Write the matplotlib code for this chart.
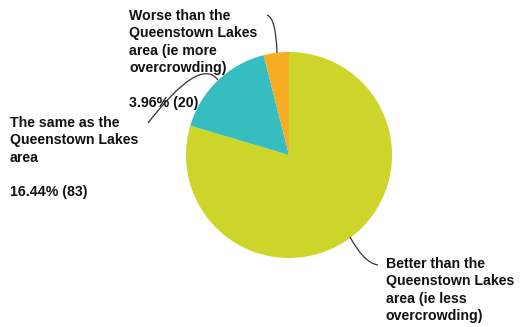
import matplotlib.pyplot as plt
from matplotlib.path import Path
from matplotlib.patches import PathPatch

# survey responses
labels = ["Better than the\nQueenstown Lakes\narea (ie less\novercrowding)",
          "The same as the\nQueenstown Lakes\narea\n\n16.44% (83)",
          "Worse than the\nQueenstown Lakes\narea (ie more\novercrowding)\n\n3.96% (20)"]
counts = [402, 83, 20]
colors = ["#CDD52A", "#35BDBF", "#F6AD24"]

W, H = 521, 327
fig = plt.figure(figsize=(W / 100, H / 100), dpi=100)
ax = fig.add_axes([0, 0, 1, 1])

# pie centred at (289, 155) from top-left, clockwise from 12 o'clock
ax.pie(counts, colors=colors, startangle=90, counterclock=False,
       center=(289, H - 155), radius=103, frame=True,
       wedgeprops=dict(linewidth=0))
ax.set_xlim(0, W)
ax.set_ylim(0, H)
ax.set_aspect("equal")
ax.axis("off")

font = dict(family="Liberation Sans", fontsize=10.2, fontweight="bold",
            color="#111111", va="top", ha="left", linespacing=1.3)
ax.text(129, H - 9, labels[2], **font)
ax.text(10, H - 116, labels[1], **font)
ax.text(386, H - 257, labels[0], **font)

# curved leader lines
def leader(p0, c, p1):
    pts = [(p0[0], H - p0[1]), (c[0], H - c[1]), (p1[0], H - p1[1])]
    path = Path(pts, [Path.MOVETO, Path.CURVE3, Path.CURVE3])
    ax.add_patch(PathPatch(path, fill=False, lw=0.9, edgecolor="#333333"))

leader((267, 15), (276, 18), (277, 53))
leader((148, 123), (200, 56), (218, 80))
leader((350, 237), (364, 263), (378, 265))

fig.savefig("out.png", dpi=100)
